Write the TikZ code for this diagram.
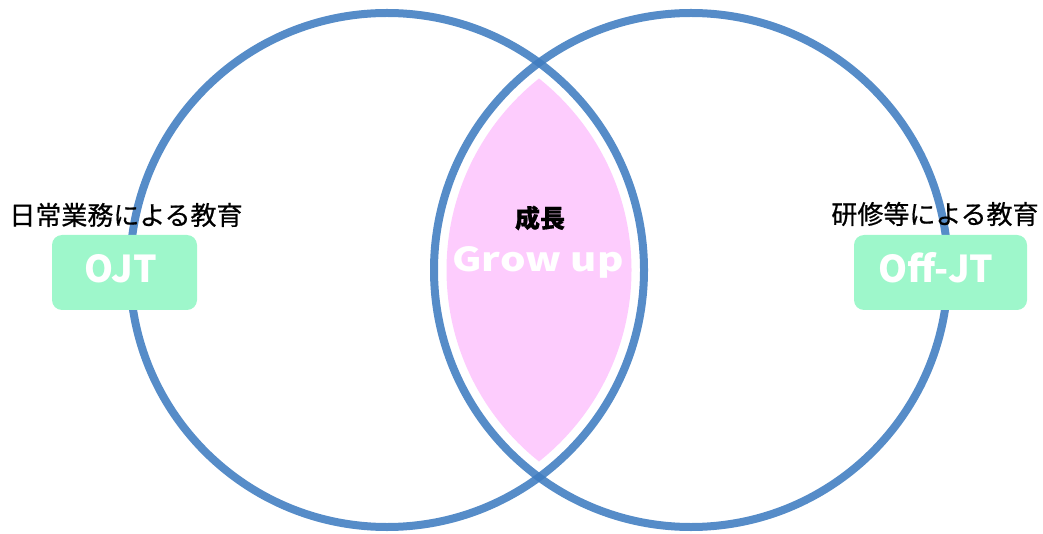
\documentclass[tikz,border=0pt]{standalone}
\usepackage{fontspec}
\setmainfont{Noto Sans CJK JP}
\newfontfamily\jpfont[FakeBold=0.6]{Noto Sans CJK JP}
\definecolor{ringblue}{HTML}{3F7CC0}
\definecolor{lenspink}{HTML}{FDCCFD}
\definecolor{mint}{HTML}{9EF7CB}
\begin{document}
\begin{tikzpicture}[x=1pt,y=-1pt,
  ring/.style={draw=ringblue,draw opacity=0.88,line width=8pt},
  tagbox/.style={fill=mint,rounded corners=10pt,inner sep=0pt},
  tagtext/.style={text=white,font=\bfseries\fontsize{37}{40}\selectfont,anchor=base},
  jplabel/.style={font=\jpfont\fontsize{26}{28}\selectfont,text=black},
]
\useasboundingbox (0,0) rectangle (1043,534);
\coordinate (cl) at (387,270);
\coordinate (cr) at (691,270);
% lens
\begin{scope}
  \clip (cl) circle[radius=244.5pt];
  \fill[lenspink] (cr) circle[radius=244.5pt];
\end{scope}
% rings
\draw[ring] (cl) circle[radius=257pt];
\draw[ring] (cr) circle[radius=257pt];
% boxes
\node[tagbox,minimum width=145pt,minimum height=75pt] (ojtbox) at (124.5,272.5) {};
\node[tagbox,minimum width=173pt,minimum height=75pt] (offbox) at (940.5,272.5) {};
\node[tagtext] (ojt) at (121,283) {OJT};
\node[tagtext] (off) at (936,283) {Off-JT};
% labels
\node[jplabel] (l1) at (126,215) {日常業務による教育};
\node[jplabel] (l2) at (935,214) {研修等による教育};
\node[jplabel,font=\jpfont\bfseries\fontsize{25}{28}\selectfont] (grow) at (540,218) {成長};
\node[text=white,font=\bfseries\fontsize{33}{36}\selectfont,anchor=base,xscale=1.22] (gu) at (538,272) {Grow up};
\end{tikzpicture}
\end{document}
